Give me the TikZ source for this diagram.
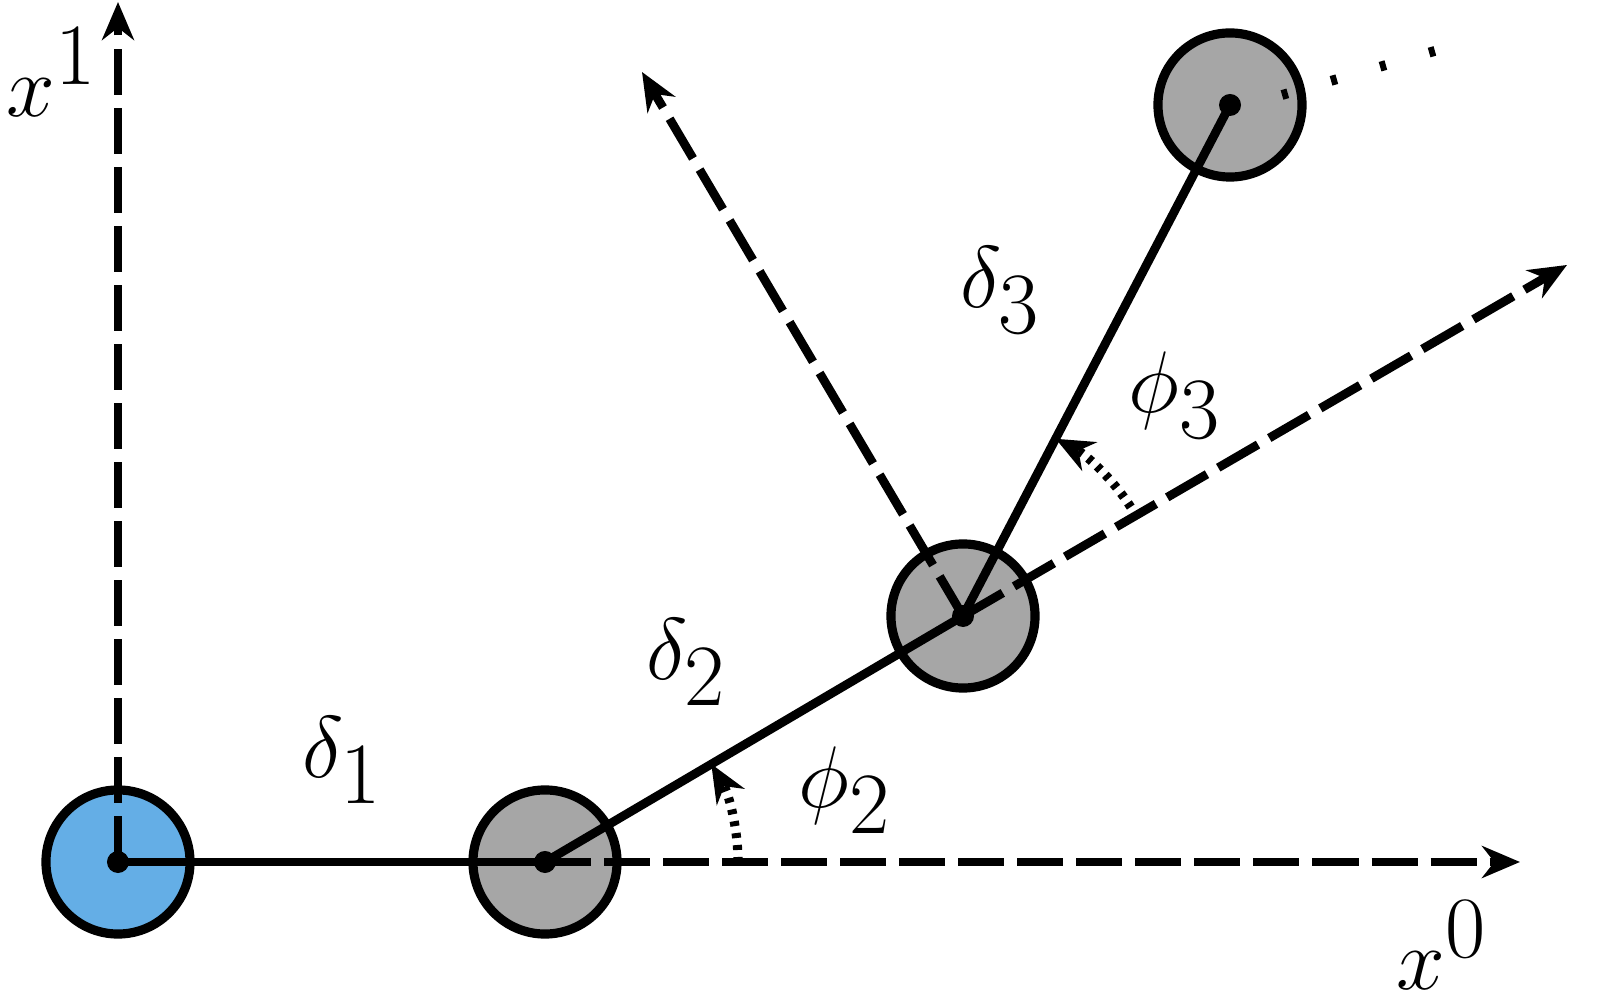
\documentclass[tikz,border=0pt]{standalone}
\usepackage{tikz}
\usetikzlibrary{arrows.meta}
\definecolor{blu}{HTML}{64AEE6}
\definecolor{gr}{HTML}{A6A6A6}
\begin{document}
\begin{tikzpicture}[x=0.01cm,y=-0.01cm,
  lw/.style={line width=2.5pt},
  ball/.style={circle,draw,line width=2.6pt,minimum size=1.44cm,inner sep=0pt},
  dsh/.style={lw,dash pattern=on 0.46cm off 0.13cm},
  dot3/.style={line width=2.6pt,dash pattern=on 0.05cm off 0.07cm},
  arr/.style={-{Stealth[length=0.38cm,width=0.32cm]}},
  lab/.style={font=\fontsize{42}{48}\selectfont,inner sep=0pt}]
\useasboundingbox (0,0) rectangle (1612,1007);
\node[ball,fill=blu] (b0) at (118,862) {};
\node[ball,fill=gr] (b1) at (545,862) {};
\node[ball,fill=gr] (b2) at (963,616) {};
\node[ball,fill=gr] (b3) at (1230,105) {};
\coordinate (c0) at (118,862);
\coordinate (c1) at (545,862);
\coordinate (c2) at (963,616);
\coordinate (c3) at (1230,105);
\coordinate (ax1) at (118,2);
\coordinate (ax0) at (1520,862);
\coordinate (ext) at (1567,265);
\coordinate (perp) at (642,72);
\coordinate (d1) at (1282,95);
\coordinate (d2) at (1445,48);
\draw[dsh,arr] (c0) -- (ax1);
\draw[dsh,arr] (c1) -- (ax0);
\draw[dsh,arr] (c2) -- (ext);
\draw[dsh,arr] (c2) -- (perp);
\draw[lw] (c0) -- (c1);
\draw[lw] (c1) -- (c2);
\draw[lw] (c2) -- (c3);
\draw[dot3,arr] (c1) ++(0:193) arc[start angle=0,end angle=-30.5,radius=193];
\draw[dot3,arr] (c2) ++(-33:200) arc[start angle=-33,end angle=-62.4,radius=200];
\draw[line width=2.8pt,dash pattern=on 0.06cm off 0.45cm] (d1) -- (d2);
\foreach \c in {c0,c1,c2,c3} \fill (\c) circle (0.11cm);
\node[lab] at (52,72) {$x^1$};
\node[lab] at (1442,945) {$x^0$};
\node[lab] at (342,760) {$\delta_1$};
\node[lab] at (686,662) {$\delta_2$};
\node[lab] at (845,790) {$\phi_2$};
\node[lab] at (1000,290) {$\delta_3$};
\node[lab] at (1175,395) {$\phi_3$};
\end{tikzpicture}
\end{document}
